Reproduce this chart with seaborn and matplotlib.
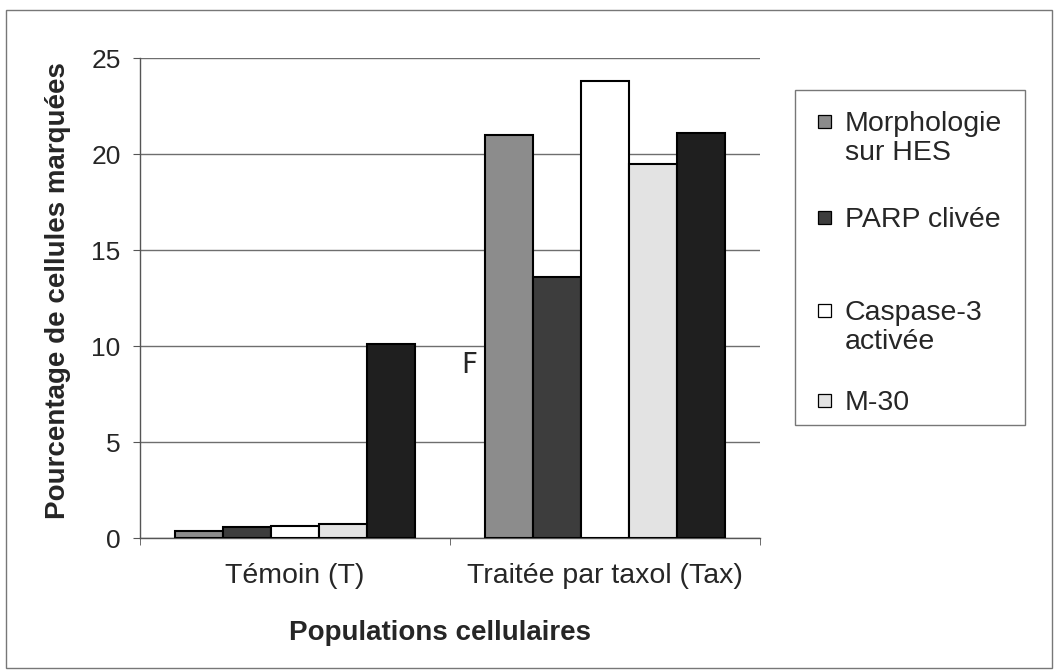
import matplotlib
matplotlib.use("Agg")
import matplotlib.pyplot as plt
from matplotlib.patches import Rectangle
import seaborn as sns
import pandas as pd

# ── data ──────────────────────────────────────────────────────────────────────
groups = ["Témoin (T)", "Traitée par taxol (Tax)"]
series = ["Morphologie\nsur HES", "PARP clivée", "Caspase-3\nactivée", "M-30", "(sans légende)"]
morpho  = [0.35, 21.0]
parp    = [0.55, 13.6]
caspase = [0.6, 23.8]
m30     = [0.75, 19.5]
extra   = [10.1, 21.1]
colors  = ["#8c8c8c", "#3d3d3d", "#ffffff", "#e3e3e3", "#1f1f1f"]

rows = []
for name, vals in zip(series, [morpho, parp, caspase, m30, extra]):
    for g, v in zip(groups, vals):
        rows.append({"groupe": g, "serie": name, "valeur": v})
df = pd.DataFrame(rows)

# ── plot ──────────────────────────────────────────────────────────────────────
sns.set_style("white")
plt.rcParams["font.family"] = ["Liberation Sans", "DejaVu Sans"]

W, H = 1058, 672
fig = plt.figure(figsize=(W / 100, H / 100), dpi=100)
ax = fig.add_axes([140 / W, 1 - 538 / H, 620 / W, 480 / H])

sns.barplot(data=df, x="groupe", y="valeur", hue="serie", order=groups,
            hue_order=series, palette=colors, width=0.775, ax=ax,
            edgecolor="black", linewidth=1.5, legend=False, zorder=3)

ax.set_ylim(0, 25)
ax.set_xlim(-0.5, 1.5)
ax.set_yticks([0, 5, 10, 15, 20, 25])
ax.yaxis.grid(True, color="#6e6e6e", linewidth=1.0, zorder=0)
ax.set_axisbelow(True)
for s in ["top", "right"]:
    ax.spines[s].set_visible(False)
for s in ["left", "bottom"]:
    ax.spines[s].set_color("#555555")
    ax.spines[s].set_linewidth(1.0)

ax.tick_params(axis="y", labelsize=19, length=5, pad=9, direction="out", left=True, color="#555555")
ax.tick_params(axis="x", labelsize=20.5, length=0, pad=18)
ax.set_xticks([-0.5, 0.5, 1.5], minor=True)
ax.tick_params(axis="x", which="minor", length=5, color="#555555", bottom=True)
ax.set_xlabel("")
ax.set_ylabel("")

# overlay in pixel units for labels, legend and border
ov = fig.add_axes([0, 0, 1, 1], zorder=5)
ov.set_xlim(0, W)
ov.set_ylim(H, 0)
ov.axis("off")

ov.text(440, 640, "Populations cellulaires", fontsize=20, fontweight="bold",
        ha="center", va="baseline")
ov.text(58, 291, "Pourcentage de cellules marquées", fontsize=20, fontweight="bold",
        rotation=90, ha="center", va="center")

# stray mark in the scan
ov.text(469, 373, "F", fontsize=20, family=["Liberation Sans Narrow", "DejaVu Sans"],
        ha="center", va="baseline")

# legend (only the first four series are listed)
ov.add_patch(Rectangle((795, 90), 230, 335, fill=False, edgecolor="#777777", linewidth=1.0))
baselines = [131, 227, 320, 410]
for name, c, b in zip(series[:4], colors[:4], baselines):
    ov.add_patch(Rectangle((818, b - 16), 13, 13, facecolor=c, edgecolor="black", linewidth=0.9))
    for i, line in enumerate(name.split("\n")):
        ov.text(845, b + 29 * i, line, fontsize=20.5, ha="left", va="baseline")

# outer chart border
ov.add_patch(Rectangle((6, 10), 1046, 658, fill=False, edgecolor="#777777", linewidth=1.0))

fig.savefig("out.png", dpi=100)
